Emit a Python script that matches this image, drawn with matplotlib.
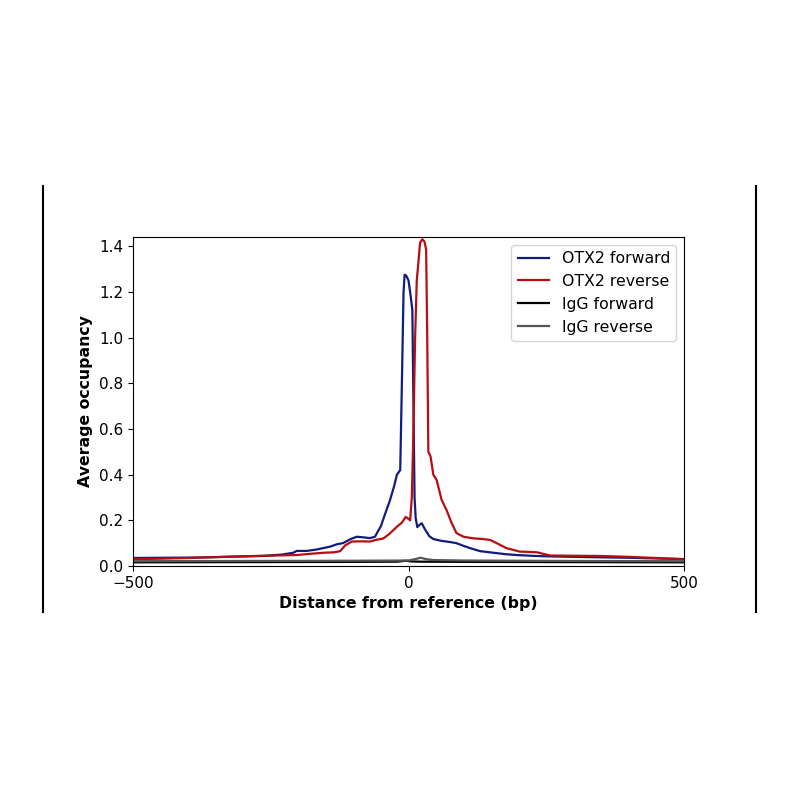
import matplotlib
matplotlib.use("Agg")
import matplotlib.pyplot as plt
from matplotlib.lines import Line2D

# Distance from reference (bp) and average occupancy
otx2_fwd_x = [-500, -450, -384, -330, -264, -230, -209, -203, -185, -167, -142, -130,
              -119, -105, -94, -80, -70, -61, -50, -40, -34, -26, -21, -15, -12, -9,
              -7, -4, 0, 4, 7, 9, 11, 13, 16, 20, 24, 30, 38, 45, 60, 75, 87, 100,
              112, 130, 154, 175, 196, 230, 257, 300, 350, 400, 450, 500]
otx2_fwd_y = [0.035, 0.036, 0.037, 0.040, 0.044, 0.050, 0.058, 0.066, 0.066, 0.072,
              0.085, 0.095, 0.100, 0.118, 0.128, 0.125, 0.122, 0.128, 0.175, 0.245,
              0.285, 0.350, 0.400, 0.420, 0.800, 1.200, 1.275, 1.270, 1.250, 1.180,
              1.120, 0.700, 0.300, 0.210, 0.170, 0.180, 0.187, 0.160, 0.130, 0.118,
              0.110, 0.105, 0.100, 0.088, 0.078, 0.065, 0.058, 0.052, 0.048, 0.044,
              0.042, 0.040, 0.038, 0.036, 0.033, 0.030]

otx2_rev_x = [-500, -450, -400, -324, -260, -203, -180, -154, -135, -124, -115, -103,
              -85, -70, -58, -46, -35, -21, -12, -5, -2, 3, 6, 9, 12, 15, 18, 21, 25,
              29, 32, 34, 36, 40, 45, 51, 60, 69, 78, 87, 100, 118, 135, 148, 160,
              178, 202, 215, 233, 257, 300, 348, 400, 450, 500]
otx2_rev_y = [0.030, 0.032, 0.035, 0.041, 0.045, 0.048, 0.053, 0.058, 0.060, 0.065,
              0.090, 0.107, 0.108, 0.107, 0.115, 0.120, 0.140, 0.172, 0.190, 0.215,
              0.210, 0.200, 0.300, 0.600, 1.000, 1.250, 1.330, 1.415, 1.430, 1.420,
              1.385, 1.000, 0.500, 0.480, 0.400, 0.377, 0.290, 0.245, 0.190, 0.144,
              0.128, 0.121, 0.118, 0.114, 0.100, 0.078, 0.063, 0.062, 0.060, 0.046,
              0.045, 0.044, 0.040, 0.035, 0.030]

igg_fwd_x = [-500, -300, -100, -20, -5, 5, 20, 100, 300, 500]
igg_fwd_y = [0.016, 0.017, 0.018, 0.019, 0.023, 0.020, 0.019, 0.018, 0.017, 0.016]

igg_rev_x = [-500, -300, -100, 0, 12, 22, 32, 45, 100, 300, 500]
igg_rev_y = [0.021, 0.022, 0.023, 0.024, 0.030, 0.036, 0.030, 0.026, 0.024, 0.022, 0.021]

fig = plt.figure(figsize=(8, 8), dpi=100)
ax = fig.add_axes([0.16625, 0.2925, 0.68875, 0.41125])

ax.plot(otx2_fwd_x, otx2_fwd_y, color="#101c80", lw=1.6, label="OTX2 forward")
ax.plot(otx2_rev_x, otx2_rev_y, color="#b80d12", lw=1.6, label="OTX2 reverse")
ax.plot(igg_fwd_x, igg_fwd_y, color="black", lw=1.6, label="IgG forward")
ax.plot(igg_rev_x, igg_rev_y, color="#555555", lw=1.6, label="IgG reverse")

ax.set_xlim(-500, 500)
ax.set_ylim(0, 1.44)
ax.set_xticks([-500, 0, 500])
ax.set_yticks([0.0, 0.2, 0.4, 0.6, 0.8, 1.0, 1.2, 1.4])
ax.tick_params(labelsize=11)
ax.set_xlabel("Distance from reference (bp)", fontsize=11.3, fontweight="bold")
ax.set_ylabel("Average occupancy", fontsize=11.3, fontweight="bold")
ax.legend(loc="upper right", fontsize=11.3)

# side borders of the surrounding panel
for xf in (43 / 800, 756 / 800):
    fig.add_artist(Line2D([xf, xf], [1 - 186 / 800, 1 - 612 / 800],
                          transform=fig.transFigure, color="black", lw=1.5))

fig.savefig("out.png", dpi=100)
